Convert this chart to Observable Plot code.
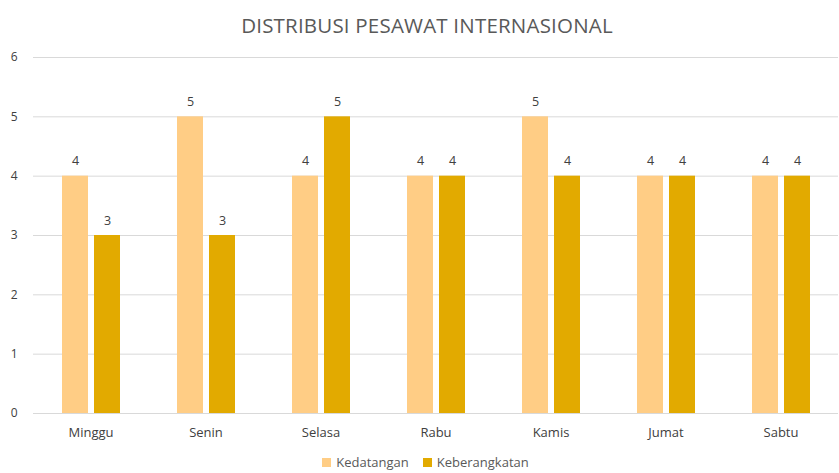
<!DOCTYPE html>
<html><head><meta charset="utf-8">
<script src="https://cdn.jsdelivr.net/npm/d3@7"></script>
<script src="https://cdn.jsdelivr.net/npm/@observablehq/plot@0.6"></script>
<style>
body{margin:0;background:#fff;font-family:"Open Sans",Calibri,sans-serif;}
#title{height:40px;line-height:50px;text-align:center;font-size:20.5px;color:#595959;padding-left:15px;letter-spacing:0.2px;}
#legend{display:flex;justify-content:center;gap:14px;font-size:13px;color:#595959;margin-top:3px;padding-left:12px;}
#legend span.sw{display:inline-block;width:9px;height:9px;margin-right:5px;vertical-align:middle;position:relative;top:-1px;}
</style></head><body>
<div id="title">DISTRIBUSI PESAWAT INTERNASIONAL</div>
<div id="chart"></div>
<div id="legend"></div>
<script>
const days = ["Minggu","Senin","Selasa","Rabu","Kamis","Jumat","Sabtu"];
const seriesNames = ["Kedatangan","Keberangkatan"];
const kedatangan = [4,5,4,4,5,4,4];
const keberangkatan = [3,3,5,4,4,4,4];
const colors = ["#FFCD85","#E2AA00"];
const yTicks = [0,1,2,3,4,5,6];

const data = [];
days.forEach((d,i)=>{
  data.push({day:d, series:seriesNames[0], value:kedatangan[i]});
  data.push({day:d, series:seriesNames[1], value:keberangkatan[i]});
});

const chart = Plot.plot({
  width: 839, height: 410,
  marginLeft: 33, marginRight: 1, marginTop: 17, marginBottom: 37,
  style:{fontFamily:'"Open Sans",Calibri,sans-serif', fontSize:"12px", color:"#404040", background:"#fff"},
  fx:{domain:days, padding:0, label:null, axis:"bottom", tickSize:0, tickPadding:14},
  x:{domain:seriesNames, paddingInner:0.1875, paddingOuter:0.89, axis:null},
  y:{domain:[0,6], ticks:yTicks, tickFormat:d3.format("d"), label:null, tickSize:0, tickPadding:16, grid:false},
  color:{domain:seriesNames, range:colors},
  marks:[
    Plot.ruleY(yTicks, {stroke:"#d9d9d9", strokeWidth:1, strokeOpacity:1}),
    Plot.barY(data, {fx:"day", x:"series", y:"value", fill:"series"}),
    Plot.text(data, {fx:"day", x:"series", y:"value", text:d=>String(d.value), dy:-15, fill:"#404040", fontSize:12.5})
  ]
});
chart.querySelectorAll('g[aria-label="fx-axis tick label"] text').forEach(t=>t.setAttribute("font-size","13"));
document.getElementById("chart").appendChild(chart);

const leg = document.getElementById("legend");
seriesNames.forEach((s,i)=>{
  const el = document.createElement("div");
  el.innerHTML = `<span class="sw" style="background:${colors[i]}"></span>${s}`;
  leg.appendChild(el);
});
</script>
</body></html>
